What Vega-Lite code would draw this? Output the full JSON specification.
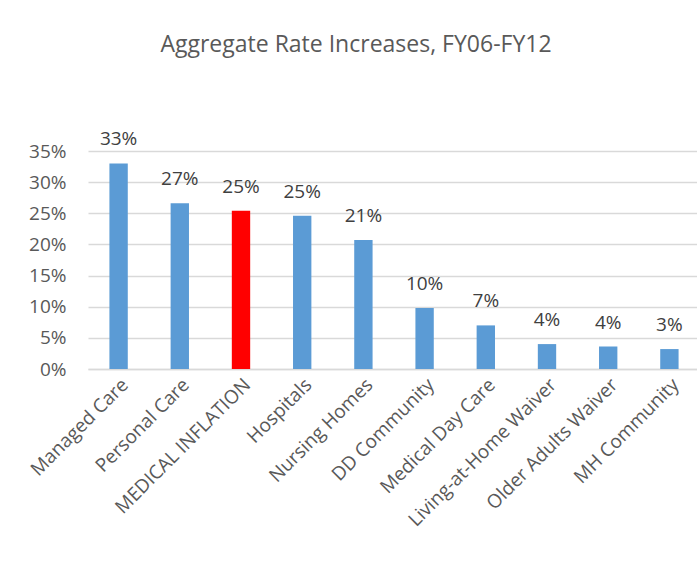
{
  "$schema": "https://vega.github.io/schema/vega-lite/v6.json",
  "autosize": "none",
  "width": 612,
  "height": 218,
  "padding": {"left": 88, "top": 151, "right": 0, "bottom": 200},
  "background": "white",
  "title": {
    "text": "Aggregate Rate Increases, FY06-FY12",
    "fontSize": 23,
    "font": "Open Sans",
    "fontWeight": "normal",
    "color": "#595959",
    "anchor": "middle",
    "dx": -38,
    "offset": 73
  },
  "data": {
    "values": [
      {"category": "Managed Care", "value": 0.330, "highlight": "no"},
      {"category": "Personal Care", "value": 0.266, "highlight": "no"},
      {"category": "MEDICAL INFLATION", "value": 0.254, "highlight": "yes"},
      {"category": "Hospitals", "value": 0.246, "highlight": "no"},
      {"category": "Nursing Homes", "value": 0.207, "highlight": "no"},
      {"category": "DD Community", "value": 0.098, "highlight": "no"},
      {"category": "Medical Day Care", "value": 0.070, "highlight": "no"},
      {"category": "Living-at-Home Waiver", "value": 0.040, "highlight": "no"},
      {"category": "Older Adults Waiver", "value": 0.036, "highlight": "no"},
      {"category": "MH Community", "value": 0.032, "highlight": "no"}
    ]
  },
  "encoding": {
    "x": {
      "field": "category",
      "type": "nominal",
      "sort": null,
      "scale": {"paddingInner": 0.7, "paddingOuter": 0.35},
      "axis": {
        "title": null,
        "labelAngle": -45,
        "labelFontSize": 19,
        "labelFont": "Open Sans",
        "labelColor": "#595959",
        "ticks": false,
        "domainColor": "#d9d9d9",
        "domainWidth": 1.5,
        "labelPadding": 6,
        "labelLimit": 300
      }
    },
    "y": {
      "field": "value",
      "type": "quantitative",
      "scale": {"domain": [0, 0.35], "nice": false},
      "axis": {
        "title": null,
        "format": ".0%",
        "values": [0, 0.05, 0.1, 0.15, 0.2, 0.25, 0.3, 0.35],
        "labelFontSize": 19,
        "labelFont": "Open Sans",
        "labelColor": "#595959",
        "ticks": false,
        "domain": false,
        "gridColor": "#d9d9d9",
        "gridWidth": 1.5,
        "labelPadding": 22
      }
    }
  },
  "layer": [
    {
      "mark": {"type": "bar"},
      "encoding": {
        "color": {
          "field": "highlight",
          "type": "nominal",
          "scale": {"domain": ["no", "yes"], "range": ["#5b9bd5", "#ff0000"]},
          "legend": null
        }
      }
    },
    {
      "mark": {"type": "text", "dy": -24, "fontSize": 19, "font": "Open Sans", "color": "#404040"},
      "encoding": {
        "text": {"field": "value", "type": "quantitative", "format": ".0%"}
      }
    }
  ],
  "config": {
    "view": {"stroke": null}
  }
}
